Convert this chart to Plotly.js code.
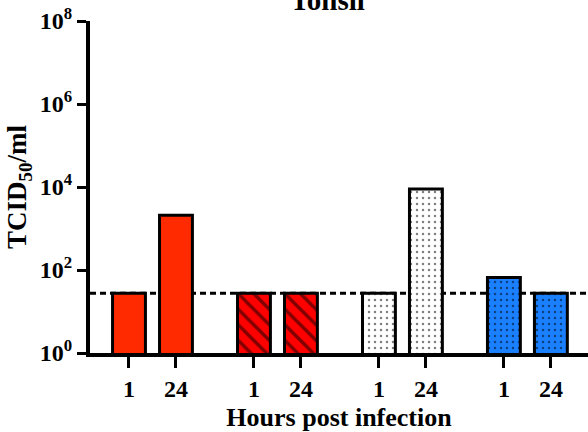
<!DOCTYPE html>
<html>
<head>
<meta charset="utf-8">
<script src="https://cdn.plot.ly/plotly-3.0.1.min.js"></script>
<style>html,body{margin:0;padding:0;background:#fff;}#chart{width:588px;height:432px;}</style>
</head>
<body>
<div id="chart"></div>
<script>
// ---- data ----
const hourLabels = ['1', '24'];
const groupNames = ['Group A', 'Group B', 'Group C', 'Group D'];
const groupAValues = [27.5, 2100];
const groupBValues = [27.5, 27.5];
const groupCValues = [27.5, 8900];
const groupDValues = [66, 27.5];
const detectionLimit = 27.5;
const yTickVals = [1, 100, 10000, 1000000, 100000000];
const yTickText = ['10<sup>0</sup>', '10<sup>2</sup>', '10<sup>4</sup>', '10<sup>6</sup>', '10<sup>8</sup>'];

// ---- layout helpers ----
const groupStep = 2.66;
const allValues = [groupAValues, groupBValues, groupCValues, groupDValues];
const styles = [
  {color: '#ff2a00', pattern: {shape: ''}},
  {color: '#ff0000', pattern: {shape: '\\', fgcolor: '#000', bgcolor: '#ff0000', size: 11, solidity: 0.3, fillmode: 'overlay'}},
  {color: '#ffffff', pattern: {shape: '.', fgcolor: '#000', bgcolor: '#ffffff', size: 6, solidity: 0.14, fillmode: 'overlay'}},
  {color: '#1a80ff', pattern: {shape: '.', fgcolor: '#000', bgcolor: '#1a80ff', size: 6, solidity: 0.14, fillmode: 'overlay'}}
];
const font = 'Liberation Serif';
const traces = [];
const tickVals = [], tickText = [];
allValues.forEach((vals, gi) => {
  const xs = vals.map((v, hi) => gi * groupStep + hi);
  xs.forEach((x, hi) => { tickVals.push(x); tickText.push(hourLabels[hi]); });
  traces.push({
    type: 'bar', x: xs, y: vals, name: groupNames[gi], width: 0.7,
    marker: {color: styles[gi].color, pattern: styles[gi].pattern, line: {color: '#000', width: 3}},
    hoverinfo: 'y'
  });
});

const layout = {
  width: 588, height: 432,
  margin: {l: 90, r: 0, t: 21, b: 79},
  paper_bgcolor: '#fff', plot_bgcolor: '#fff',
  showlegend: false,
  font: {family: font, color: '#000'},
  title: {text: '<b>Tonsil</b>', font: {family: font, size: 29, color: '#000'},
          xref: 'paper', x: 0.477, xanchor: 'center', yref: 'container', y: 1, yanchor: 'middle'},
  xaxis: {
    range: [-0.83, 9.77], showgrid: false, zeroline: false,
    showline: true, linecolor: '#000', linewidth: 4,
    ticks: 'outside', ticklen: 11, tickwidth: 3, tickcolor: '#000',
    tickvals: tickVals, ticktext: tickText.map(t => '<b>' + t + '</b>'),
    tickfont: {family: font, size: 24, color: '#000'},
    title: {text: '<b>Hours post infection</b>', font: {family: font, size: 26, color: '#000'}, standoff: 10}
  },
  yaxis: {
    type: 'log', range: [0, 8], showgrid: false, zeroline: false,
    showline: true, linecolor: '#000', linewidth: 4,
    ticks: 'outside', ticklen: 9, tickwidth: 3, tickcolor: '#000',
    tickvals: yTickVals, ticktext: yTickText.map(t => '<b>' + t + '</b>'),
    tickfont: {family: font, size: 24, color: '#000'},
    title: {text: '<b>TCID<sub>50</sub>/ml</b>', font: {family: font, size: 27, color: '#000'}, standoff: 6}
  },
  shapes: [{
    type: 'line', xref: 'paper', x0: 0, x1: 1, yref: 'y',
    y0: detectionLimit, y1: detectionLimit,
    line: {color: '#000', width: 3, dash: '6px,4px'}, layer: 'below'
  }]
};

Plotly.newPlot('chart', traces, layout, {displayModeBar: false, staticPlot: true});
</script>
</body>
</html>
